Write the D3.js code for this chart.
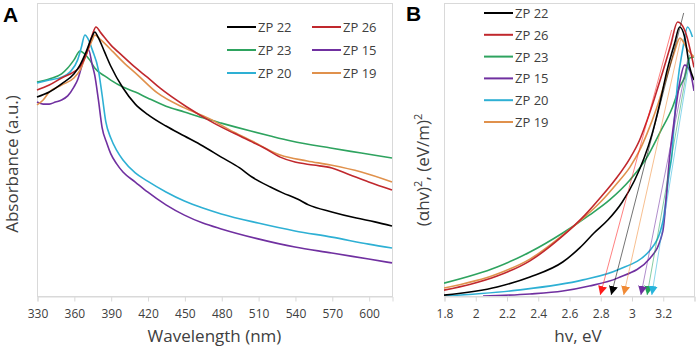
<!DOCTYPE html>
<html>
<head>
<meta charset="utf-8">
<script src="https://cdn.jsdelivr.net/npm/d3@7"></script>
<style>
  html, body { margin: 0; padding: 0; background: #fff; }
  svg { display: block; font-family: "Open Sans", "Liberation Sans", sans-serif; }
  .tick text { fill: #404040; font-size: 12px; }
  .axis-title { fill: #404040; font-size: 17px; }
  .legend text { fill: #404040; font-size: 13px; }
  .panel-tag { fill: #000; font-size: 21px; font-weight: bold; font-family: "Liberation Sans", Arial, sans-serif; }
</style>
</head>
<body>
<div id="chart"></div>
<script>
// ---------------------------------------------------------------------------
// Data (arbitrary units 0-100)
// ---------------------------------------------------------------------------

const SERIES = ["ZP 22", "ZP 26", "ZP 23", "ZP 15", "ZP 20", "ZP 19"];
const COLORS = ["#000000", "#c0282d", "#2ea35f", "#7030a0", "#2eb0d4", "#e0914c"];
const ARROW_COLORS = ["#000000", "#ff1a1a", "#22a35a", "#7030a0", "#28b4dc", "#f08a35"];

const wavelengthTicks = [330, 360, 390, 420, 450, 480, 510, 540, 570, 600];
const energyTicks = [1.8, 2, 2.2, 2.4, 2.6, 2.8, 3, 3.2, 3.4];
const energyLabels = ["1.8", "2", "2.2", "2.4", "2.6", "2.8", "3", "3.2", ""];

// Panel A — absorbance vs wavelength (nm)
const absZP22 = [[330, 67.9], [340, 69.6], [350, 72.4], [360, 75.8], [365, 78.8], [370, 83.3],
  [375, 88.7], [377, 90.1], [380, 88.1], [385, 83.3], [390, 78.5], [400, 71.0], [410, 65.5],
  [420, 62.0], [435, 58.0], [450, 54.6], [465, 51.2], [480, 47.4], [495, 43.7], [505, 40.6],
  [520, 37.2], [530, 35.2], [542, 33.1], [551, 31.1], [570, 28.7], [590, 26.6], [605, 25.3], [619, 23.9]];
const absZP26 = [[330, 70.3], [340, 72.0], [350, 74.4], [360, 76.5], [365, 78.2], [370, 82.3],
  [375, 89.1], [378, 91.8], [382, 89.8], [390, 85.7], [400, 81.8], [410, 78.0], [420, 74.6],
  [430, 71.0], [452, 64.5], [474, 59.0], [490, 55.6], [505, 52.6], [515, 50.5], [528, 47.4],
  [540, 45.7], [555, 44.7], [570, 43.7], [585, 41.3], [600, 38.9], [619, 36.2]];
const absZP23 = [[330, 73.0], [340, 74.1], [350, 75.8], [355, 77.8], [360, 80.5], [365, 83.6],
  [368, 82.9], [371, 81.6], [373, 80.5], [377, 77.8], [385, 75.1], [390, 73.7], [400, 71.3],
  [410, 69.6], [420, 67.6], [435, 64.8], [450, 62.8], [465, 60.8], [480, 59.0], [504, 56.3],
  [520, 54.6], [537, 52.9], [569, 50.5], [594, 48.8], [619, 47.1]];
const absZP15 = [[330, 66.2], [335, 65.5], [340, 65.5], [345, 66.2], [350, 66.9], [355, 68.3],
  [360, 71.3], [363, 73.7], [366, 77.8], [369, 81.9], [372, 84.0], [375, 78.8], [377, 75.4],
  [380, 66.9], [383, 57.5], [387, 52.0], [390, 48.6], [395, 45.0], [400, 42.3], [410, 38.9],
  [420, 35.5], [435, 31.1], [450, 27.6], [465, 24.9], [480, 22.9], [510, 19.5], [540, 16.7],
  [570, 14.7], [600, 12.6], [619, 11.3]];
const absZP20 = [[330, 72.7], [340, 73.7], [350, 74.7], [357, 76.5], [363, 80.5], [366, 84.7],
  [369, 89.1], [372, 87.4], [375, 84.0], [380, 77.1], [383, 68.6], [386, 59.5], [390, 54.0],
  [395, 49.6], [400, 46.4], [410, 42.0], [420, 39.2], [435, 35.5], [450, 32.4], [465, 30.0],
  [480, 28.0], [510, 24.9], [540, 22.2], [570, 20.1], [600, 17.7], [619, 16.4]];
const absZP19 = [[330, 65.2], [335, 66.9], [340, 69.6], [350, 72.0], [360, 74.4], [365, 77.1],
  [370, 82.3], [375, 87.4], [377, 89.1], [382, 87.4], [392, 83.3], [400, 79.9], [412, 75.4],
  [428, 69.3], [450, 64.2], [469, 60.8], [490, 56.0], [505, 52.9], [528, 48.1], [550, 46.1],
  [569, 44.7], [594, 42.3], [619, 38.9]];

// Panel B — Tauc plot (αhv)² vs hv (eV)
const taucZP22 = [[1.80, 0.3], [2.14, 3.1], [2.35, 6.5], [2.56, 11.6], [2.67, 16.5], [2.76, 21.5],
  [2.85, 26.0], [2.94, 32.0], [3.02, 39.5], [3.08, 47.0], [3.13, 55.0], [3.18, 65.5], [3.23, 77.5],
  [3.276, 86.3], [3.308, 91.8], [3.34, 88.4], [3.372, 78.2], [3.40, 73.7]];
const taucZP26 = [[1.80, 2.0], [1.97, 4.0], [2.14, 6.8], [2.35, 12.0], [2.56, 20.5], [2.70, 27.5],
  [2.80, 33.5], [2.90, 40.0], [2.99, 47.0], [3.05, 53.0], [3.10, 60.0], [3.15, 68.0], [3.20, 76.5],
  [3.25, 85.5], [3.295, 93.5], [3.34, 90.8], [3.40, 78.0]];
const taucZP23 = [[1.80, 4.4], [2.14, 9.9], [2.35, 15.0], [2.56, 21.5], [2.73, 27.6], [2.86, 32.8],
  [2.99, 39.6], [3.10, 47.4], [3.18, 55.6], [3.263, 64.5], [3.308, 71.3], [3.34, 74.7],
  [3.372, 81.2], [3.40, 81.6]];
const taucZP15 = [[2.05, 0], [2.35, 0.7], [2.56, 1.7], [2.73, 3.4], [2.91, 6.1], [3.12, 13.0],
  [3.20, 22.0], [3.244, 47.4], [3.276, 61.1], [3.308, 72.7], [3.34, 78.8], [3.372, 77.1], [3.40, 70.0]];
const taucZP20 = [[1.80, 0], [2.27, 2.0], [2.69, 5.5], [2.91, 8.9], [3.12, 15.7], [3.20, 25.3],
  [3.244, 43.0], [3.257, 47.4], [3.276, 61.1], [3.295, 72.7], [3.327, 84.0], [3.359, 91.8], [3.39, 88.4]];
const taucZP19 = [[1.80, 2.7], [2.14, 7.5], [2.35, 12.6], [2.56, 20.8], [2.70, 27.0], [2.80, 32.0],
  [2.90, 38.0], [2.99, 44.0], [3.05, 49.5], [3.10, 55.5], [3.16, 64.0], [3.22, 74.0], [3.27, 82.5],
  [3.31, 88.0], [3.36, 84.0], [3.40, 81.6]];

// Band gap extrapolations: intercept on the energy axis and upper end of the tangent
const bandGaps = [2.87, 2.80, 3.10, 3.06, 3.13, 2.95];
const tangentTops = [[3.334, 96.6], [3.257, 90.8], [3.372, 82.3], [3.359, 80.5], [3.372, 80.5], [3.314, 87.4]];

const absSeries = [absZP22, absZP26, absZP23, absZP15, absZP20, absZP19];
const taucSeries = [taucZP22, taucZP26, taucZP23, taucZP15, taucZP20, taucZP19];

// ---------------------------------------------------------------------------
// Layout
// ---------------------------------------------------------------------------

const W = 699, H = 347;
const panelA = { left: 37, right: 392, top: 3, bottom: 296 };
const panelB = { left: 444, right: 694, top: 3, bottom: 296 };
const FRAME = "#d9d9d9";

const svg = d3.select("#chart").append("svg")
  .attr("width", W)
  .attr("height", H)
  .attr("viewBox", `0 0 ${W} ${H}`);

const defs = svg.append("defs");

function drawFrame(p) {
  svg.append("rect")
    .attr("x", p.left + 0.5).attr("y", p.top + 0.5)
    .attr("width", p.right - p.left).attr("height", p.bottom - p.top)
    .attr("fill", "none").attr("stroke", FRAME);
}

function drawXAxis(x, p, ticks, labels) {
  const axis = d3.axisBottom(x)
    .tickValues(ticks)
    .tickSize(5)
    .tickPadding(8)
    .tickFormat((d, i) => labels ? labels[i] : d);
  const g = svg.append("g")
    .attr("transform", `translate(0.5,${p.bottom + 0.5})`)
    .call(axis);
  g.select(".domain").attr("stroke", FRAME);
  g.selectAll(".tick line").attr("stroke", FRAME);
  g.selectAll(".tick text").attr("font-family", "Open Sans, sans-serif");
}

function drawLegend(items, x0, y0, colStep, rowStep, cols) {
  const g = svg.append("g").attr("class", "legend");
  items.forEach((name, i) => {
    const cx = x0 + (i % cols) * colStep;
    const cy = y0 + Math.floor(i / cols) * rowStep;
    g.append("line")
      .attr("x1", cx).attr("x2", cx + 29)
      .attr("y1", cy).attr("y2", cy)
      .attr("stroke", COLORS[i]).attr("stroke-width", 2);
    g.append("text")
      .attr("x", cx + 31).attr("y", cy + 5)
      .text(name);
  });
}

// ---------------------------------------------------------------------------
// Panel A — UV-vis absorbance
// ---------------------------------------------------------------------------

const xA = d3.scaleLinear().domain([330, 619]).range([panelA.left, panelA.right]);
const yA = d3.scaleLinear().domain([0, 100]).range([panelA.bottom, panelA.top]);

drawFrame(panelA);
drawXAxis(xA, panelA, wavelengthTicks);

const lineA = d3.line()
  .x(d => xA(d[0]))
  .y(d => yA(d[1]))
  .curve(d3.curveMonotoneX);

// draw order: lighter curves first, black on top
[2, 4, 3, 5, 1, 0].forEach(i => {
  svg.append("path")
    .datum(absSeries[i])
    .attr("d", lineA)
    .attr("fill", "none")
    .attr("stroke", COLORS[i])
    .attr("stroke-width", 1.6);
});

drawLegend(SERIES, 227, 27, 85, 23, 2);

svg.append("text")
  .attr("class", "axis-title")
  .attr("x", (panelA.left + panelA.right) / 2).attr("y", 342)
  .attr("text-anchor", "middle")
  .text("Wavelength (nm)");

svg.append("text")
  .attr("class", "axis-title")
  .attr("transform", "translate(18,164) rotate(-90)")
  .attr("text-anchor", "middle")
  .text("Absorbance (a.u.)");

svg.append("text").attr("class", "panel-tag").attr("x", 3).attr("y", 22).text("A");

// ---------------------------------------------------------------------------
// Panel B — Tauc plot with band-gap extrapolation
// ---------------------------------------------------------------------------

const xB = d3.scaleLinear().domain([1.8, 3.4]).range([panelB.left, panelB.right]);
const yB = d3.scaleLinear().domain([0, 100]).range([panelB.bottom, panelB.top]);

drawFrame(panelB);
drawXAxis(xB, panelB, energyTicks, energyLabels);

defs.append("clipPath").attr("id", "clipB")
  .append("rect")
  .attr("x", panelB.left).attr("y", panelB.top)
  .attr("width", panelB.right - panelB.left).attr("height", panelB.bottom - panelB.top);

const plotB = svg.append("g").attr("clip-path", "url(#clipB)");

const lineB = d3.line()
  .x(d => xB(d[0]))
  .y(d => yB(d[1]))
  .curve(d3.curveMonotoneX);

[2, 4, 3, 5, 1, 0].forEach(i => {
  plotB.append("path")
    .datum(taucSeries[i])
    .attr("d", lineB)
    .attr("fill", "none")
    .attr("stroke", COLORS[i])
    .attr("stroke-width", 1.6);
});

// arrowheads, one per colour
ARROW_COLORS.forEach((c, i) => {
  defs.append("marker")
    .attr("id", `arrow${i}`)
    .attr("viewBox", "0 0 10 10")
    .attr("refX", 10).attr("refY", 5)
    .attr("markerWidth", 9).attr("markerHeight", 9)
    .attr("markerUnits", "userSpaceOnUse")
    .attr("orient", "auto")
    .append("path")
    .attr("d", "M0,0 L10,5 L0,10 z")
    .attr("fill", c);
});

SERIES.forEach((name, i) => {
  svg.append("line")
    .attr("x1", xB(tangentTops[i][0])).attr("y1", yB(tangentTops[i][1]))
    .attr("x2", xB(bandGaps[i])).attr("y2", yB(0) - 1)
    .attr("stroke", ARROW_COLORS[i])
    .attr("stroke-opacity", 0.55)
    .attr("stroke-width", 1)
    .attr("marker-end", `url(#arrow${i})`);
});

drawLegend(SERIES, 484, 13, 0, 21.8, 1);

svg.append("text")
  .attr("class", "axis-title")
  .attr("x", 578).attr("y", 342)
  .attr("text-anchor", "middle")
  .text("hv, eV");

const yTitleB = svg.append("text")
  .attr("class", "axis-title")
  .attr("transform", "translate(429,170) rotate(-90)")
  .attr("text-anchor", "middle");
yTitleB.append("tspan").text("(αhv)");
yTitleB.append("tspan").attr("dy", -7).attr("font-size", 11).text("2");
yTitleB.append("tspan").attr("dy", 7).text(", (eV/m)");
yTitleB.append("tspan").attr("dy", -7).attr("font-size", 11).text("2");

svg.append("text").attr("class", "panel-tag").attr("x", 406).attr("y", 21).text("B");
</script>
</body>
</html>
